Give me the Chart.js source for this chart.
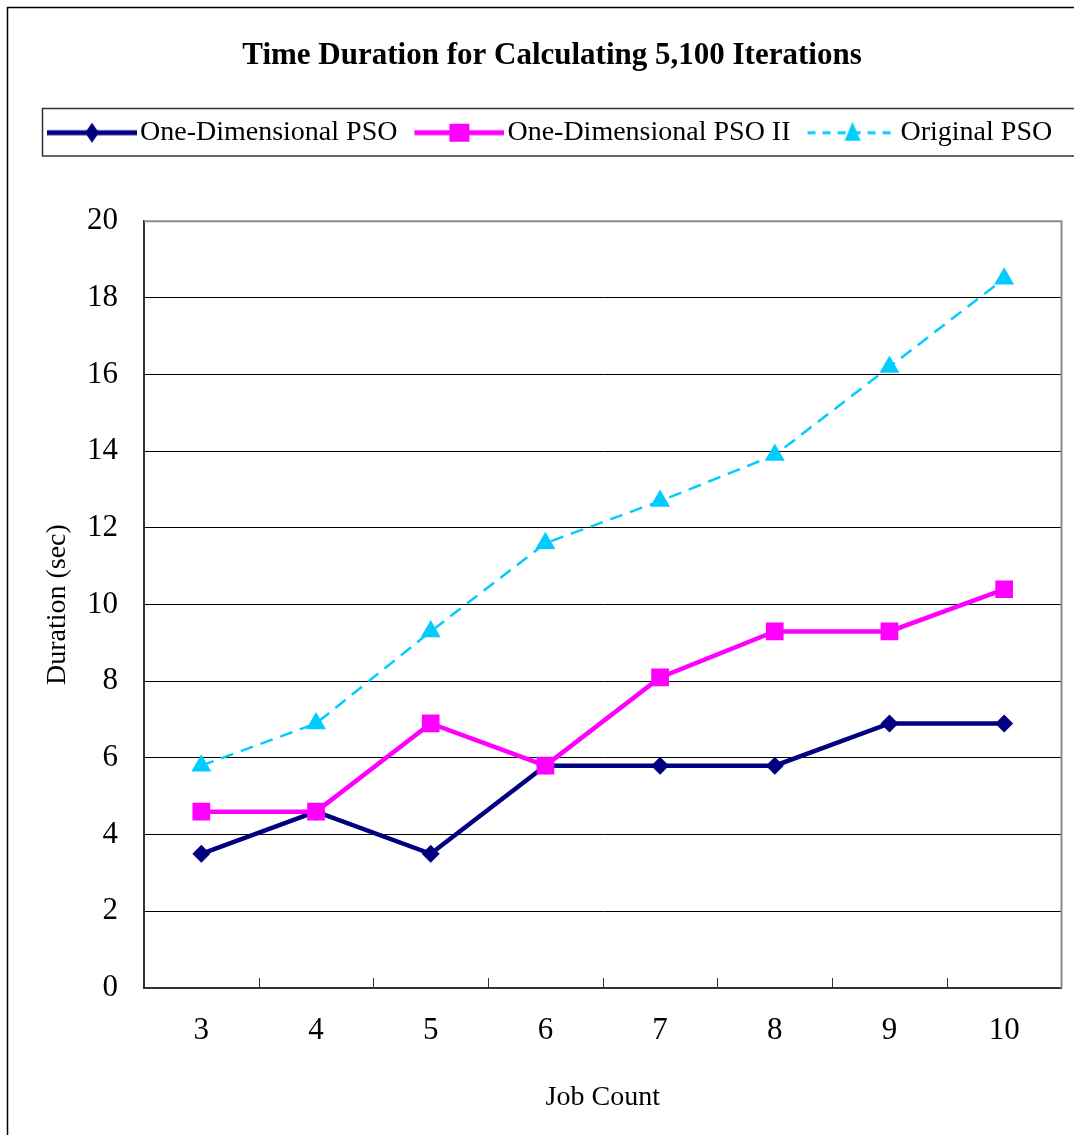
<!DOCTYPE html>
<html>
<head>
<meta charset="utf-8">
<title>Time Duration for Calculating 5,100 Iterations</title>
<script src="https://cdn.jsdelivr.net/npm/chart.js@4"></script>
<style>
  html, body { margin: 0; padding: 0; background: #fff; overflow: hidden; }
  canvas { display: block; }
</style>
</head>
<body>
<canvas id="chart" width="1074" height="1135"></canvas>
<script>
// Chart data
var jobCounts = ['3', '4', '5', '6', '7', '8', '9', '10'];
var oneDimPso = [3.5, 4.6, 3.5, 5.8, 5.8, 5.8, 6.9, 6.9];
var oneDimPsoII = [4.6, 4.6, 6.9, 5.8, 8.1, 9.3, 9.3, 10.4];
var originalPso = [5.8, 6.9, 9.3, 11.6, 12.7, 13.9, 16.2, 18.5];
var yMin = 0, yMax = 20, yStep = 2;

var serif = "'Liberation Serif', 'Times New Roman', serif";
var navy = '#000080';
var magenta = '#FF00FF';
var cyan = '#00CCFF';

// Legend swatch: a short line with the marker in the middle
function makeSwatch(color, lineWidth, dash, shape) {
    var c = document.createElement('canvas');
    c.width = 106;
    c.height = 28;
    var g = c.getContext('2d');
    var x0 = 16, x1 = 106, cx = (x0 + x1) / 2, cy = 14;
    g.strokeStyle = color;
    g.lineWidth = lineWidth;
    g.setLineDash(dash);
    g.beginPath();
    g.moveTo(x0, cy);
    g.lineTo(x1, cy);
    g.stroke();
    g.fillStyle = color;
    g.beginPath();
    if (shape === 'diamond') {
        g.moveTo(cx, cy - 10); g.lineTo(cx + 7, cy); g.lineTo(cx, cy + 10); g.lineTo(cx - 7, cy);
    } else if (shape === 'square') {
        g.rect(cx - 10, cy - 9, 20, 18);
    } else {
        g.moveTo(cx, cy - 11); g.lineTo(cx + 8, cy + 8); g.lineTo(cx - 8, cy + 8);
    }
    g.closePath();
    g.fill();
    return c;
}

var swatches = [
    makeSwatch(navy, 5, [], 'diamond'),
    makeSwatch(magenta, 5, [], 'square'),
    makeSwatch(cyan, 3, [8, 7], 'triangle')
];

// Plot frame, category tick marks, legend box and outer border
var framePlugin = {
    id: 'frame',
    beforeDatasetsDraw: function(chart) {
        var ctx = chart.ctx, a = chart.chartArea;
        ctx.save();
        ctx.strokeStyle = '#8a8a8a';
        ctx.lineWidth = 2;
        ctx.beginPath();
        ctx.moveTo(a.left, a.top);
        ctx.lineTo(a.right, a.top);
        ctx.lineTo(a.right, a.bottom);
        ctx.stroke();
        var xs = chart.scales.x;
        ctx.strokeStyle = '#333';
        ctx.lineWidth = 1;
        for (var i = 1; i < jobCounts.length; i++) {
            var px = Math.round((xs.getPixelForValue(i - 1) + xs.getPixelForValue(i)) / 2) + 0.5;
            ctx.beginPath();
            ctx.moveTo(px, a.bottom);
            ctx.lineTo(px, a.bottom - 10);
            ctx.stroke();
        }
        ctx.restore();
    },
    afterDraw: function(chart) {
        var ctx = chart.ctx;
        ctx.save();
        ctx.strokeStyle = '#333';
        ctx.lineWidth = 1.5;
        ctx.strokeRect(42.5, 108.5, 1100, 47.5);
        ctx.strokeStyle = '#000';
        ctx.strokeRect(7.5, 7.5, 1200, 1200);
        ctx.restore();
    }
};

var ctx = document.getElementById('chart').getContext('2d');
var chart = new Chart(ctx, {
    type: 'line',
    data: {
        labels: jobCounts,
        datasets: [{
            label: 'One-Dimensional PSO',
            data: oneDimPso,
            borderColor: navy,
            backgroundColor: navy,
            borderWidth: 4.5,
            pointStyle: 'rectRot',
            pointRadius: 9,
            pointBorderWidth: 0,
            order: 2,
            xAxisID: 'x',
            yAxisID: 'y'
        }, {
            label: 'One-Dimensional PSO II',
            data: oneDimPsoII,
            borderColor: magenta,
            backgroundColor: magenta,
            borderWidth: 4.5,
            pointStyle: 'rect',
            pointRadius: 12.5,
            pointBorderWidth: 0,
            order: 1,
            xAxisID: 'x',
            yAxisID: 'y'
        }, {
            label: 'Original PSO',
            data: originalPso,
            borderColor: cyan,
            backgroundColor: cyan,
            borderWidth: 2.5,
            borderDash: [13, 8],
            pointStyle: 'triangle',
            pointRadius: 11.5,
            pointBorderWidth: 0,
            order: 0,
            xAxisID: 'x',
            yAxisID: 'y'
        }]
    },
    options: {
        responsive: false,
        animation: false,
        devicePixelRatio: 1,
        layout: { padding: { left: 30, right: 0, top: 0, bottom: 0 } },
        elements: { line: { tension: 0, fill: false } },
        plugins: {
            tooltip: { enabled: false },
            title: {
                display: true,
                text: 'Time Duration for Calculating 5,100 Iterations',
                color: '#000',
                font: { family: serif, size: 31, weight: 'bold' },
                padding: { top: 37.5, bottom: 32 }
            },
            legend: {
                display: true,
                position: 'top',
                align: 'start',
                labels: {
                    color: '#000',
                    font: { family: serif, size: 28 },
                    usePointStyle: true,
                    pointStyleWidth: 84,
                    padding: 12,
                    generateLabels: function(chart) {
                        var items = Chart.defaults.plugins.legend.labels.generateLabels(chart);
                        items.sort(function(a, b) { return a.datasetIndex - b.datasetIndex; });
                        items.forEach(function(it) { it.pointStyle = swatches[it.datasetIndex]; });
                        return items;
                    }
                }
            }
        },
        scales: {
            x: {
                type: 'category',
                position: 'bottom',
                offset: true,
                grid: { display: false, drawTicks: false },
                border: { display: true, color: '#333', width: 2 },
                ticks: { color: '#000', font: { family: serif, size: 31 }, padding: 24, maxRotation: 0 },
                title: {
                    display: true,
                    text: 'Job Count',
                    color: '#000',
                    font: { family: serif, size: 28 },
                    padding: { top: 10, bottom: 21 }
                },
                afterFit: function(s) { s.height = 147; }
            },
            y: {
                type: 'linear',
                position: 'left',
                min: yMin,
                max: yMax,
                grid: { color: '#000', lineWidth: 1, drawTicks: false },
                border: { display: true, color: '#333', width: 2 },
                ticks: { stepSize: yStep, color: '#000', font: { family: serif, size: 31 }, padding: 26 },
                title: {
                    display: true,
                    text: 'Duration (sec)',
                    color: '#000',
                    font: { family: serif, size: 28 },
                    padding: { top: 11, bottom: 0 }
                },
                afterFit: function(s) { s.width = 114; }
            },
            // empty spacer axes to place the plot area
            xTop: {
                type: 'linear',
                position: 'top',
                grid: { display: false, drawTicks: false },
                border: { display: false },
                ticks: { display: false },
                afterFit: function(s) { s.height = 64.5; }
            },
            yRight: {
                type: 'linear',
                position: 'right',
                grid: { display: false, drawTicks: false },
                border: { display: false },
                ticks: { display: false },
                afterFit: function(s) { s.width = 11; }
            }
        }
    },
    plugins: [framePlugin]
});
</script>
</body>
</html>
